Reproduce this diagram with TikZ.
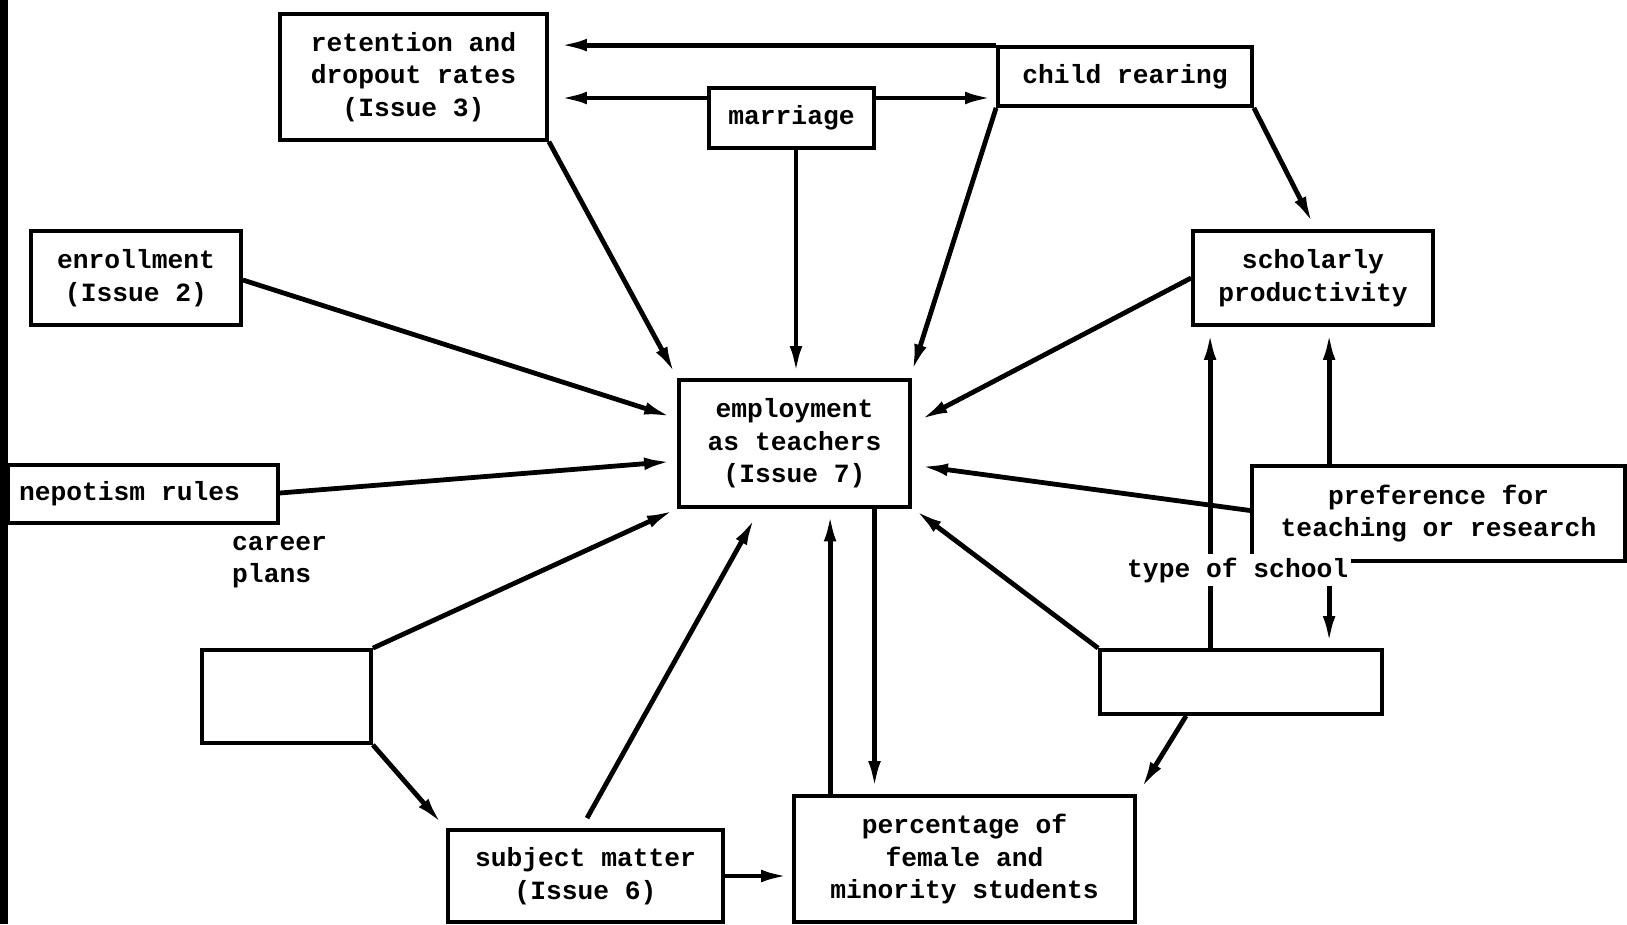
\documentclass[tikz,border=0pt]{standalone}
\usepackage{fontspec}
\newfontfamily\tw{Liberation Mono}
\usetikzlibrary{arrows.meta,calc}
\begin{document}
\begin{tikzpicture}[x=1pt,y=-1pt,
  txt/.style={font=\tw\bfseries\fontsize{26.3}{32.5}\selectfont},
  box/.style={txt, draw, line width=3.8pt, inner sep=0pt, align=center},
  lbl/.style={txt, inner sep=0pt, align=left},
  arr/.style={line width=4.8pt, -{Latex[length=28pt,width=12.5pt]}}]
\useasboundingbox (0,0) rectangle (1627,924);
\draw[line width=8pt] (4,0) -- (4,924);
% boxes
\node[box, minimum width=267pt, minimum height=125.5pt] (ret) at (413.5,77) {retention and\\dropout rates\\(Issue 3)};
\node[box, minimum width=165pt, minimum height=60pt] (mar) at (791.5,118) {marriage};
\node[box, minimum width=254pt, minimum height=59pt] (child) at (1125,76.5) {child rearing};
\node[box, minimum width=210pt, minimum height=94pt] (enr) at (136,278) {enrollment\\(Issue 2)};
\node[box, minimum width=240pt, minimum height=94pt] (sch) at (1313,278) {scholarly\\productivity};
\node[box, minimum width=231pt, minimum height=127pt] (emp) at (794.5,443.5) {employment\\as teachers\\(Issue 7)};
\node[box, minimum width=270pt, minimum height=58pt] (nep) at (143,494) {\makebox[248pt][l]{nepotism rules}};
\node[box, minimum width=373pt, minimum height=95pt] (pref) at (1438.5,513.5) {preference for\\teaching or research};
\node[box, minimum width=169pt, minimum height=93pt] (el) at (286.5,696.5) {};
\node[box, minimum width=282pt, minimum height=64pt] (er) at (1241,682) {};
\node[box, minimum width=275pt, minimum height=92pt] (subj) at (585.5,876) {subject matter\\(Issue 6)};
\node[box, minimum width=341pt, minimum height=126pt] (pct) at (964.5,859) {percentage of\\female and\\minority students};
\node[lbl, anchor=west] (cp) at (232,562) {career\\plans};
% connectors
\draw[arr, shorten >=10pt] (child.north west) -- (child.north west -| ret.east);
\coordinate (m1) at ($(mar.west)+(0,-20)$);
\coordinate (m2) at ($(mar.east)+(0,-20)$);
\draw[arr, shorten >=10pt] (m1) -- (m1 -| ret.east);
\draw[arr, shorten >=3pt] (m2) -- (m2 -| child.west);
\coordinate (m3) at ($(mar.south)+(4.5,0)$);
\draw[arr, shorten >=4pt] (m3) -- (m3 |- emp.north);
\draw[arr] (ret.south east) -- ($(emp.north west)+(-2,-4)$);
\draw[arr] (child.south west) -- ($(emp.north east)+(0,-6)$);
\draw[arr] (child.south east) -- ($(sch.north)+(0,-5)$);
\draw[arr] ($(enr.east)+(0,2)$) -- ($(emp.west)+(-5,-26.5)$);
\draw[arr] (sch.west) -- ($(emp.east)+(8,-23.5)$);
\draw[arr] ($(nep.east)+(0,-1)$) -- ($(emp.west)+(-5,18)$);
\draw[arr] ($(pref.west)+(0,-3)$) -- ($(emp.east)+(8,22.5)$);
\draw[arr] (el.north east) -- ($(emp.south west)+(-2.5,1)$);
\draw[arr] (el.south east) -- ($(subj.north west)+(-4,-4)$);
\draw[arr] ($(subj.north)+(1.5,-10)$) -- ($(emp.south)+(-39.5,8.7)$);
\coordinate (p1) at ($(pct.north west)+(38,0)$);
\draw[arr, shorten >=4.5pt] (p1) -- (p1 |- emp.south);
\coordinate (e1) at ($(emp.south)+(80,0)$);
\draw[arr, shorten >=5pt] (e1) -- (e1 |- pct.north);
\draw[arr] (er.north west) -- ($(emp.south east)+(3,1)$);
\coordinate (r1) at ($(er.north west)+(112,0)$);
\draw[arr, shorten >=5pt] (r1) -- (r1 |- sch.south);
\coordinate (q1) at ($(pref.north west)+(79,0)$);
\draw[arr, shorten >=5pt] (q1) -- (q1 |- sch.south);
\coordinate (q2) at ($(pref.south west)+(79,0)$);
\draw[arr, shorten >=4pt] (q2) -- (q2 |- er.north);
\draw[arr] ($(er.south west)+(88,0)$) -- ($(pct.north east)+(4,-5)$);
\draw[arr, shorten >=3pt] (subj.east) -- (subj.east -| pct.west);
\node[lbl, fill=white, inner xsep=3pt, inner ysep=4pt, anchor=west] (tos) at (1124,570) {type of school};
\end{tikzpicture}
\end{document}
